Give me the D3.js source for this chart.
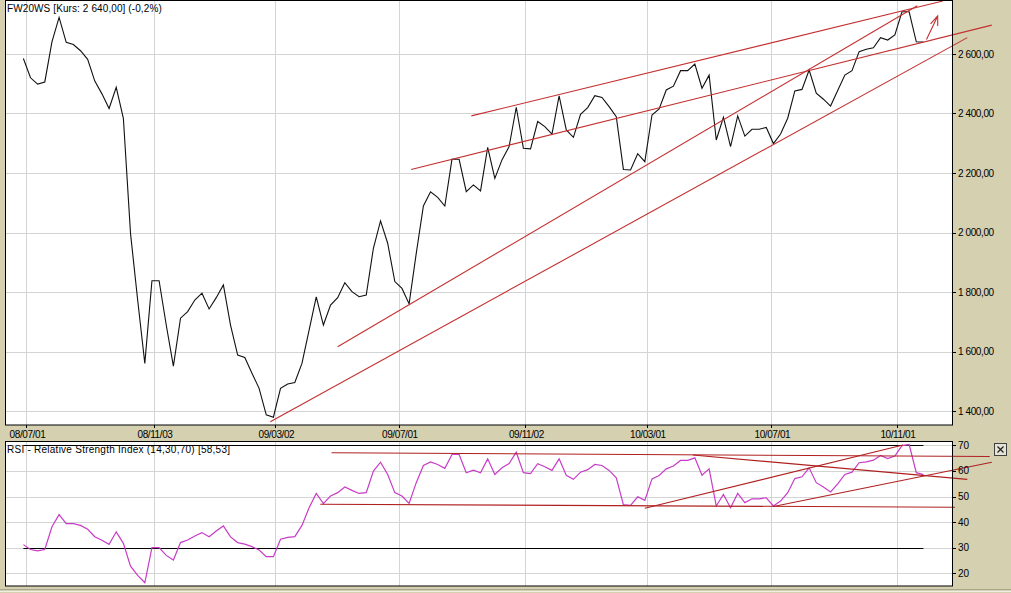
<!DOCTYPE html>
<html><head><meta charset="utf-8">
<script src="https://cdn.jsdelivr.net/npm/d3@7"></script>
<style>
body{margin:0;background:#d4d0b0;overflow:hidden;}
svg{display:block;}
text{font-family:"Liberation Sans",Arial,sans-serif;font-size:10px;fill:#000;}
</style>
</head><body><svg id="c" width="1011" height="593"></svg>
<script>
// ---------------- DATA ----------------
const firstWeek = "2008-06-28";   // weekly observations from this date
const price = [2585,2520,2499,2506,2641,2723,2639,2632,2611,2582,2509,2466,2417,2488,2384,
  1997,1773,1560,1838,1838,1689,1551,1712,1734,1773,1796,1743,1781,1824,1689,
  1588,1580,1527,1476,1387,1379,1476,1491,1496,1560,1672,1784,1689,1756,1781,
  1831,1801,1784,1790,1947,2039,1964,1835,1812,1760,1930,2089,2137,2118,2089,
  2246,2246,2137,2160,2140,2286,2182,2244,2289,2421,2283,2281,2373,2356,2331,
  2459,2345,2320,2397,2420,2460,2454,2423,2389,2212,2210,2265,2238,2395,2415,
  2479,2492,2544,2544,2566,2485,2529,2311,2387,2289,2392,2324,2347,2347,2353,
  2299,2331,2384,2476,2481,2546,2468,2448,2425,2477,2529,2544,2608,2616,2621,
  2655,2647,2664,2742,2742,2641,2640];
const rsi = [31.2,29.3,28.8,29.3,38.2,42.9,39.4,39.4,38.7,37.2,34.3,32.9,31.3,36.2,31.7,
  22.8,19.2,16.3,30.0,30.0,27.0,25.2,32.0,33.0,34.6,35.9,34.3,36.5,38.5,34.2,
  32.0,31.4,30.4,29.1,26.5,26.5,33.3,34.0,34.3,38.7,45.6,51.2,47.2,50.2,51.5,
  53.7,52.4,51.2,51.5,59.9,63.4,58.6,51.5,50.2,47.3,55.4,62.1,63.5,62.5,61.0,
  66.4,66.4,59.3,60.3,59.3,64.7,58.6,61.2,62.9,67.3,59.3,58.9,62.8,61.6,60.2,
  64.7,58.3,56.7,59.5,60.5,62.5,62.1,60.2,57.3,46.8,46.5,49.9,48.5,56.9,58.2,
  60.8,61.9,64.1,64.1,65.1,58.3,60.8,46.3,50.8,45.6,51.2,47.6,49.1,49.1,49.5,
  46.3,48.2,51.5,57.0,57.7,61.2,55.4,53.7,51.8,54.9,58.6,59.5,63.2,63.5,64.2,
  66.0,64.8,65.8,69.9,70.3,59.3,58.53];
const xTickDates  = ["2008-07-01","2008-11-03","2009-03-02","2009-07-01","2009-11-02","2010-03-01","2010-07-01","2010-11-01"];
const xTickLabels = ["08/07/01","08/11/03","09/03/02","09/07/01","09/11/02","10/03/01","10/07/01","10/11/01"];
const xDomain = ["2008-06-10","2010-12-25"];
const priceTicks = [1400,1600,1800,2000,2200,2400,2600];
const rsiTicks = [20,30,40,50,60,70];
const rsiLevels = [30,70];
const priceTitle = "FW20WS [Kurs: 2 640,00] (-0,2%)";
const rsiTitle = "RSI - Relative Strength Index (14,30,70) [58,53]";
// hand-drawn trend lines: [[date, value],[date, value]]
const priceTrendLines = [
  [["2009-09-10",2392],["2010-12-16",2778]],
  [["2009-07-13",2212],["2011-02-02",2697]],
  [["2009-05-02",1616],["2010-11-21",2762]],
  [["2009-02-25",1364],["2011-01-09",2655]]
];
const priceArrow = [["2010-11-30",2649],["2010-12-11",2728],["2010-12-04",2701],["2010-12-11",2728],["2010-12-11",2694]];
const rsiTrendLines = [
  [["2009-04-26",67.1],["2011-01-31",65.6]],
  [["2009-04-15",47.0],["2010-12-28",45.8]],
  [["2010-04-15",66.2],["2011-01-09",56.7]],
  [["2010-02-27",45.4],["2010-11-07",70.1]],
  [["2010-07-03",46.1],["2011-02-02",63.4]]
];

// ---------------- LAYOUT ----------------
const P = {l:5, r:952, top:0.5, bottom:425};       // price panel
const R = {l:5, r:952, top:441.5, bottom:586};     // rsi panel
const parse = d3.utcParse("%Y-%m-%d");
const t0 = parse(firstWeek);
const dates = price.map((_, i) => d3.utcDay.offset(t0, 7 * i));

const x = d3.scaleUtc().domain(xDomain.map(parse)).range([P.l, P.r]);
const y = d3.scaleLinear().domain([1400, 2600]).range([411, 54]);
const yr = d3.scaleLinear().domain([20, 70]).range([573.3, 445.3]);

const loc = d3.formatLocale({decimal:",", thousands:" ", grouping:[3], currency:["",""]});
const fmtPrice = loc.format(",.2f");

const svg = d3.select("#c");
svg.append("rect").attr("width",1011).attr("height",593).attr("fill","#d4d0b0");

function panel(p){
  svg.append("rect").attr("x",p.l).attr("y",p.top).attr("width",p.r-p.l).attr("height",p.bottom-p.top)
    .attr("fill","#fff");
}
panel(P); panel(R);

const grid = "#d4d4d4";
// vertical grids
[P,R].forEach(p=>{
  svg.append("g").selectAll("line").data(xTickDates.map(parse)).join("line")
    .attr("x1",d=>Math.round(x(d))+0.5).attr("x2",d=>Math.round(x(d))+0.5)
    .attr("y1",p.top).attr("y2",p.bottom).attr("stroke",grid);
});
// horizontal grids
svg.append("g").selectAll("line").data(priceTicks).join("line")
  .attr("x1",P.l).attr("x2",P.r).attr("y1",d=>Math.round(y(d))+0.5).attr("y2",d=>Math.round(y(d))+0.5)
  .attr("stroke",grid);
svg.append("g").selectAll("line").data(rsiTicks).join("line")
  .attr("x1",R.l).attr("x2",R.r).attr("y1",d=>Math.round(yr(d))+0.5).attr("y2",d=>Math.round(yr(d))+0.5)
  .attr("stroke",grid);

// RSI level lines
svg.append("g").selectAll("line").data(rsiLevels).join("line")
  .attr("x1",x(dates[0])).attr("x2",x(dates[dates.length-1]))
  .attr("y1",d=>Math.round(yr(d))+0.5).attr("y2",d=>Math.round(yr(d))+0.5)
  .attr("stroke","#000");

// price line
svg.append("path").datum(price)
  .attr("d", d3.line().x((d,i)=>x(dates[i])).y(d=>y(d)))
  .attr("fill","none").attr("stroke","#111").attr("stroke-width",1.1);

// RSI line
svg.append("path").datum(rsi)
  .attr("d", d3.line().x((d,i)=>x(dates[i])).y(d=>yr(d)))
  .attr("fill","none").attr("stroke","#c83cc8").attr("stroke-width",1.2);

// trend lines
const tl = d3.line().x(d=>x(parse(d[0]))).y(d=>y(d[1]));
svg.append("g").selectAll("path").data(priceTrendLines).join("path")
  .attr("d", tl).attr("fill","none").attr("stroke","#c43030").attr("stroke-width",1.1);
svg.append("path").datum(priceArrow).attr("d", tl).attr("fill","none")
  .attr("stroke","#c43030").attr("stroke-width",1.1);
const tlr = d3.line().x(d=>x(parse(d[0]))).y(d=>yr(d[1]));
svg.append("g").selectAll("path").data(rsiTrendLines).join("path")
  .attr("d", tlr).attr("fill","none").attr("stroke","#b02020").attr("stroke-width",1.1);

// panel borders
[P,R].forEach(p=>{
  svg.append("rect").attr("x",p.l+0.5).attr("y",p.top).attr("width",p.r-p.l).attr("height",p.bottom-p.top)
    .attr("fill","none").attr("stroke","#000");
});

// right axes
const axP = svg.append("g");
axP.selectAll("line").data(priceTicks).join("line")
  .attr("x1",P.r).attr("x2",P.r+4).attr("y1",d=>Math.round(y(d))+0.5).attr("y2",d=>Math.round(y(d))+0.5).attr("stroke","#000");
axP.selectAll("text").data(priceTicks).join("text")
  .attr("x",P.r+6).attr("y",d=>y(d)+3.5).attr("letter-spacing","-0.4").text(d=>fmtPrice(d));
const axR = svg.append("g");
axR.selectAll("line").data(rsiTicks).join("line")
  .attr("x1",R.r).attr("x2",R.r+4).attr("y1",d=>Math.round(yr(d))+0.5).attr("y2",d=>Math.round(yr(d))+0.5).attr("stroke","#000");
axR.selectAll("text").data(rsiTicks).join("text")
  .attr("x",R.r+6).attr("y",d=>yr(d)+3.5).text(d=>d);

// bottom x ticks + labels
const axX = svg.append("g");
axX.selectAll("line").data(xTickDates.map(parse)).join("line")
  .attr("x1",d=>Math.round(x(d))+0.5).attr("x2",d=>Math.round(x(d))+0.5)
  .attr("y1",P.bottom).attr("y2",P.bottom+3).attr("stroke","#000");
axX.selectAll("text").data(xTickDates).join("text")
  .attr("x",d=>x(parse(d))+1).attr("y",437.5).attr("text-anchor","middle").attr("letter-spacing","-0.4")
  .text((d,i)=>xTickLabels[i]);

// titles
svg.append("text").attr("x",7).attr("y",12).attr("letter-spacing","0.1").text(priceTitle);
svg.append("text").attr("x",7).attr("y",453).attr("letter-spacing","0.25").text(rsiTitle);

// close button
const cb = svg.append("g");
cb.append("rect").attr("x",994.5).attr("y",443.5).attr("width",12).attr("height",12)
  .attr("fill","#e4e2d4").attr("stroke","#404040");
cb.append("path").attr("d","M997.5,446.5L1003.5,452.5M1003.5,446.5L997.5,452.5").attr("stroke","#202020").attr("stroke-width",1.2);

// bottom edge
svg.append("line").attr("x1",0).attr("x2",1011).attr("y1",589.5).attr("y2",589.5).attr("stroke","#a9a68e");
svg.append("line").attr("x1",0).attr("x2",1011).attr("y1",591.5).attr("y2",591.5).attr("stroke","#eeeee4");
</script>
</body></html>
